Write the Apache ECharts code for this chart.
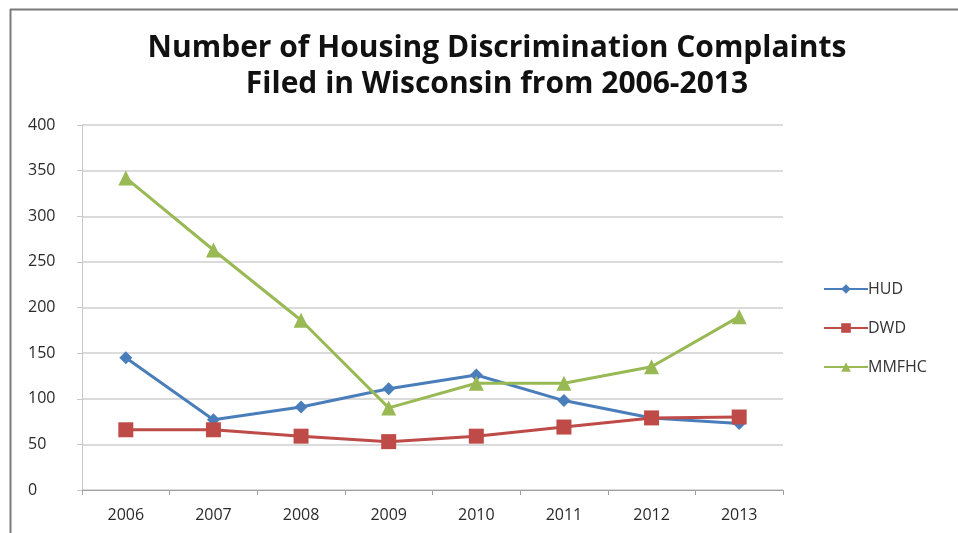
<!DOCTYPE html>
<html>
<head>
<meta charset="utf-8">
<script src="https://cdn.jsdelivr.net/npm/echarts@6/dist/echarts.min.js"></script>
<style>
html,body{margin:0;padding:0;background:#fff;}
#chart{width:958px;height:533px;}
</style>
</head>
<body>
<div id="chart"></div>
<script>
const titleLines = ['Number of Housing Discrimination Complaints', 'Filed in Wisconsin from 2006-2013'];
const categories = ['2006','2007','2008','2009','2010','2011','2012','2013'];
const seriesNames = ['HUD','DWD','MMFHC'];
const hudValues = [145, 77, 91, 111, 126, 98, 79, 73];
const dwdValues = [66, 66, 59, 53, 59, 69, 79, 80];
const mmfhcValues = [342, 263, 186, 90, 117, 117, 135, 190];
const yTicks = {min: 0, max: 400, interval: 50};

const chart = echarts.init(document.getElementById('chart'), null, {renderer: 'canvas'});
const font = '"Open Sans", "DejaVu Sans", sans-serif';
const colors = ['#4a7ebb', '#be4b48', '#98b954'];
const symbols = ['diamond', 'rect', 'triangle'];
const sizes = [13, 15, 15];
const datas = [hudValues, dwdValues, mmfhcValues];

chart.setOption({
  animation: false,
  backgroundColor: '#ffffff',
  title: {
    text: titleLines.join('\n'),
    left: 492, top: 25, textAlign: 'center',
    textStyle: {fontFamily: font, fontWeight: 'bold', fontSize: 30, color: '#111', lineHeight: 36}
  },
  legend: {
    orient: 'vertical', left: 818, top: 276, itemGap: 23,
    itemWidth: 44, itemHeight: 12,
    data: seriesNames,
    textStyle: {fontFamily: font, fontSize: 16, color: '#333', padding: [0,0,0,-5]}
  },
  grid: {left: 82, right: 175, top: 125, bottom: 43},
  xAxis: {
    type: 'category', data: categories, boundaryGap: true,
    axisLine: {lineStyle: {color: '#a0a0a0', width: 1}},
    axisTick: {show: true, length: 5, lineStyle: {color: '#a0a0a0'}},
    axisLabel: {fontFamily: font, fontSize: 16, color: '#2a2a2a', margin: 17}
  },
  yAxis: {
    type: 'value', min: yTicks.min, max: yTicks.max, interval: yTicks.interval,
    axisLine: {show: true, lineStyle: {color: '#c8c8c8'}},
    axisTick: {show: true, length: 5, lineStyle: {color: '#c8c8c8'}},
    splitLine: {lineStyle: {color: '#cfcfcf', width: 1.5}},
    axisLabel: {fontFamily: font, fontSize: 16, color: '#2a2a2a', margin: 18, align: 'left', padding: [0,0,0,-36]}
  },
  series: seriesNames.map((n, i) => ({
    name: n, type: 'line', data: datas[i],
    symbol: symbols[i], symbolSize: sizes[i],
    lineStyle: {color: colors[i], width: 3},
    itemStyle: {color: colors[i]}
  })),
  graphic: [
    {type: 'line', shape: {x1: 10, y1: 9.5, x2: 958, y2: 9.5}, style: {stroke: '#7a7a7a', lineWidth: 2}},
    {type: 'line', shape: {x1: 10.5, y1: 9, x2: 10.5, y2: 533}, style: {stroke: '#7a7a7a', lineWidth: 2}}
  ]
});
</script>
</body>
</html>
